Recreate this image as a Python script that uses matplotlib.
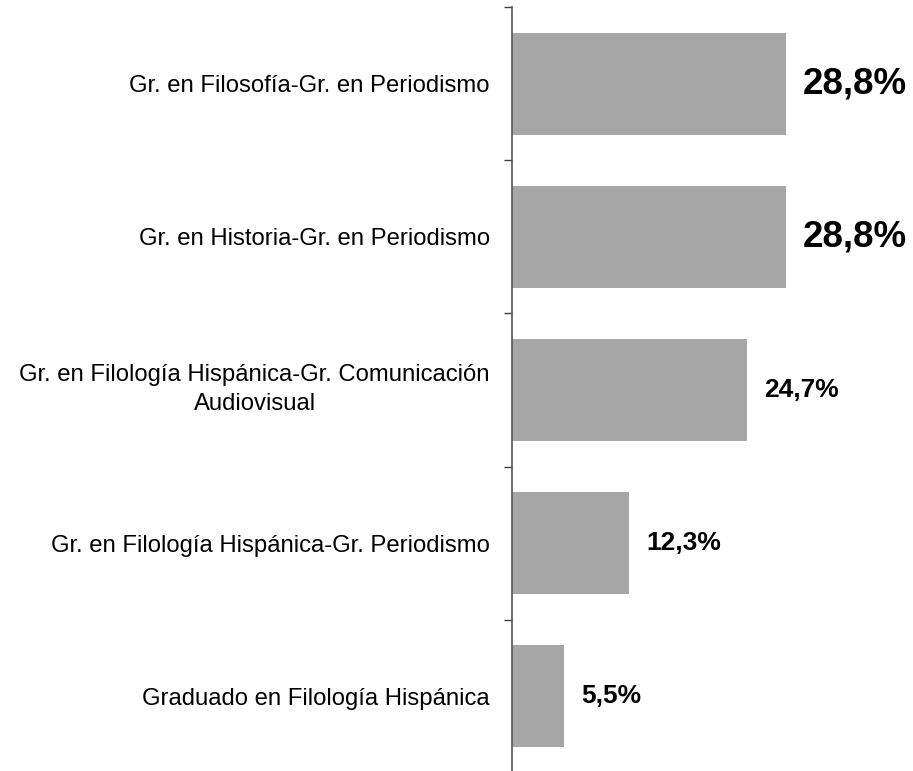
import matplotlib
matplotlib.use("Agg")
import matplotlib.pyplot as plt
import matplotlib.transforms as mtransforms
import numpy as np

categories = [
    "Gr. en Filosofía-Gr. en Periodismo",
    "Gr. en Historia-Gr. en Periodismo",
    "Gr. en Filología Hispánica-Gr. Comunicación\nAudiovisual",
    "Gr. en Filología Hispánica-Gr. Periodismo",
    "Graduado en Filología Hispánica",
]
values = [28.8, 28.8, 24.7, 12.3, 5.5]
value_labels = ["28,8%", "28,8%", "24,7%", "12,3%", "5,5%"]
label_sizes = [26.5, 26.5, 19, 19, 19]

plt.rcParams['font.family'] = ['Liberation Sans', 'DejaVu Sans']

W, H = 913, 771
fig = plt.figure(figsize=(W / 100, H / 100), dpi=100)
ax = fig.add_axes([512 / W, 1 - 773 / H, 1 - 512 / W, 766 / H])

n = len(categories)
y = np.arange(n)
ax.barh(y, values, height=0.667, color='#A6A6A6', edgecolor='none')
ax.set_ylim(n - 0.5, -0.5)
ax.set_xlim(0, 401 / 9.51)

ax.set_yticks(y)
ax.set_yticklabels(categories, fontsize=17.2, multialignment='center', linespacing=1.45)
ax.tick_params(axis='y', which='major', length=0, pad=16)
ax.set_yticks(np.arange(n + 1) - 0.5, minor=True)
ax.tick_params(axis='y', which='minor', length=6, width=1, color='#404040', direction='out')

for lbl in ax.get_yticklabels():
    if "\n" in lbl.get_text():
        lbl.set_transform(lbl.get_transform() +
                          mtransforms.ScaledTranslation(0, 7 / 100, fig.dpi_scale_trans))

for s in ['top', 'right', 'bottom']:
    ax.spines[s].set_visible(False)
ax.spines['left'].set_color('#555555')
ax.spines['left'].set_linewidth(1.2)
ax.set_xticks([])

for yi, v, lab, fs in zip(y, values, value_labels, label_sizes):
    ax.annotate(lab, xy=(v, yi), xytext=(12.5, 0), textcoords='offset points',
                ha='left', va='center', fontsize=fs, fontweight='bold', color='black')

fig.savefig("out.png", dpi=100)
